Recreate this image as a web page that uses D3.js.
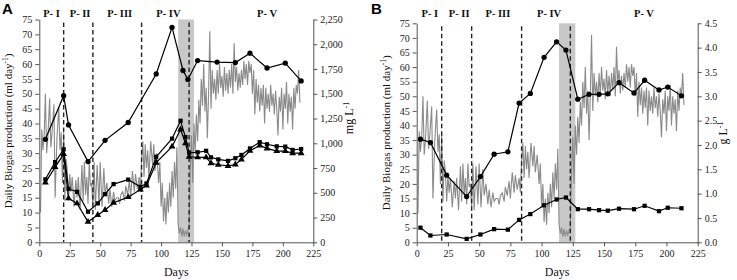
<!DOCTYPE html>
<html><head><meta charset="utf-8">
<script src="https://cdn.jsdelivr.net/npm/d3@7/dist/d3.min.js"></script>
<style>
body{margin:0;background:#fff;}
svg{display:block;}
.tick text{font-family:"Liberation Serif","Times New Roman",serif;font-size:10px;fill:#222;}
.tick line{stroke:#555;}
.domain{stroke:#555;}
</style></head>
<body><svg id="c" width="737" height="280"></svg>
<script>
// ---------- DATA ----------
const dayTicks = [0,25,50,75,100,125,150,175,200,225];
const leftTicks = [0,5,10,15,20,25,30,35,40,45,50,55,60,65,70,75];
const rightTicksA = [0,250,500,750,1000,1250,1500,1750,2000,2250];
const rightTicksB = [0,0.5,1,1.5,2,2.5,3,3.5,4,4.5];
const phaseLabels = ["P- I","P- II","P- III","P- IV","P- V"];
const phaseCentersA = [10,33.5,66,106,187];
const phaseCentersB = [10.5,34,65,106,182];
const phaseBounds = [20,44,84,123];
const shadeBand = [114,127];

// daily biogas production (ml/day), shared by both panels
const biogasDays = [1,2,3,4,5,6,7,8.5,9.5,10.5,12,13,14.5,16,17,18,19,20,21,22,
 23,24,25,26,27,28.5,30,31,32,33.5,35,36,37,38,39,40,41,42,43,44,
 45,46,47.5,49,50,51.5,53,54,55.5,57,58,59.5,61,62,63.5,65,66,67,68.5,70,71,72.5,74,75,76.5,78,79,80.5,82,83,
 84,85,86,87,88,89,90,91.5,93,94,95,96.5,98,99,100,101,102,103,104,105,106,107,108,109,110,111,112,113,114,115,116,117,118,119,120,121,122,
 123,124,125,126,127,128,129,130,131,132,133,134,135,136,137,138,139,140,141,142,143,144,145,146,147,148,149,150,
 151,152,153,154,155,156,157,158,159,160,161,162,163,164,165,166,167,168,169,170,171,172,173,174,175,176,177,178,179,180,
 181,182,183,184,185,186,187,188,189,190,191,192,193,194,195,196,197,198,199,200,201,202,203,204,205,206,207,208,209,210,211,212,213,214];
const biogasValues = [10,38,31,36,50,30,35,48.5,32,37,46.5,15,35,45.5,31,37,20,37,14,28,
 24,14,23,17,22,12,21,15,22,11,26,14,27,16,22,13,27,19,20,12,
 27,11,26,13,27,12,25,16,20,13,18,12,17,14,15,15,13,16,17,14,19,16,21,15,24,17,23,18,22,17,
 28,34,22,33,25,31,22,34,26,33,24,30,20,27,12,20,7,15,6,17,10,20,12,24,15,27,18,32,6,3,5,2,4.5,2,4,2.5,4,
 5,25,36,20,40,30,43,34,48,40,55,46,60,44,52,35,50,71,45,58,50,55,48,58,50,60,52,56,
 49,59,51,57,50,58,52,60,50,67,54,59,51,57,52,58,53,61,55,60,53,61,57,60,50,58,43,55,47,53,
 44,52,46,53,40,52,45,50,44,53,46,50,43,51,45,36,49,44,52,38,50,45,54,40,50,44,49,38,52,45,53,50,58,47];

// Panel A concentrations (mg/L)
const aCircleDays = [5,20,24,40,54,73,96,109,118,122,130,146,161,173,187,202,215];
const aCircleValues = [1040,1480,1185,815,1030,1210,1700,2170,1735,1645,1835,1820,1815,1910,1760,1810,1630];
const aMarkDays = [5,13,20,24,31,40,48,54,61,73,83,88,96,109,116,120,123,130,137,141,147,155,161,166,173,181,187,195,202,208,215];
const aSquareValues = [636,810,939,540,510,309,393,486,588,633,561,594,864,1047,1227,1062,906,909,924,858,837,822,849,882,948,1011,990,969,966,933,942];
const aTriangleValues = [603,759,891,444,393,207,276,327,399,456,534,573,804,966,1140,999,864,858,858,798,783,771,786,837,924,978,948,921,921,900,900];

// Panel B concentrations (g/L)
const bDays = [3,11,24,40,51,62,73,82,91,102,112,119.5,129,138,146,153,162,174,182.5,194,201,212];
const bCircleValues = [2.12,2.05,1.38,0.94,1.35,1.81,1.86,2.86,3.06,3.80,4.12,3.95,2.94,3.04,3.04,3.05,3.28,3.07,3.33,3.13,3.19,3.01];
const bSquareValues = [0.30,0.14,0.16,0.07,0.16,0.27,0.26,0.46,0.58,0.76,0.88,0.92,0.68,0.68,0.66,0.65,0.69,0.68,0.75,0.64,0.71,0.70];

// ---------- DRAW ----------
const svg = d3.select("#c");
const serif = '"Liberation Serif","Times New Roman",serif';

function drawPanel(p) {
  const g = svg.append("g");
  const x = d3.scaleLinear().domain([0,225]).range([p.x0,p.x1]);
  const y = d3.scaleLinear().domain([0,75]).range([p.yb,p.yt]);
  const yr = d3.scaleLinear().domain([0,p.rMax]).range([p.yb,p.yt]);

  // shaded band
  g.append("rect").attr("x",x(shadeBand[0])).attr("y",p.yt)
    .attr("width",x(shadeBand[1])-x(shadeBand[0])).attr("height",p.yb-p.yt)
    .attr("fill","#c8c8c8");

  // biogas grey line
  const pts = biogasDays.map((d,i)=>[d,biogasValues[i]]);
  g.append("path").datum(pts)
    .attr("d",d3.line().x(d=>x(d[0])).y(d=>y(d[1])))
    .attr("fill","none").attr("stroke","#8a8a8a").attr("stroke-width",1.1);

  // phase boundaries
  g.selectAll(".pb").data(phaseBounds).join("line")
    .attr("x1",d=>x(d)).attr("x2",d=>x(d)).attr("y1",p.yt+3).attr("y2",p.yb)
    .attr("stroke","#222").attr("stroke-width",1.4).attr("stroke-dasharray","4.5,3");

  // phase labels
  g.selectAll(".pl").data(phaseLabels).join("text")
    .attr("x",(d,i)=>x(p.phaseCenters[i])).attr("y",p.labelY)
    .attr("text-anchor","middle").attr("font-family",serif)
    .attr("font-weight","bold").attr("font-size","10.5px").attr("fill","#111").text(d=>d);

  // series
  p.series.forEach(s=>{
    const data = s.days.map((d,i)=>[d,s.values[i]]);
    g.append("path").datum(data)
      .attr("d",d3.line().x(d=>x(d[0])).y(d=>yr(d[1])))
      .attr("fill","none").attr("stroke","#000").attr("stroke-width",1.2);
    g.selectAll(null).data(data).join("path")
      .attr("transform",d=>`translate(${x(d[0])},${yr(d[1])})`)
      .attr("d",d3.symbol().type(s.symbol).size(s.size))
      .attr("fill","#000");
  });

  // axes
  g.append("g").attr("transform",`translate(0,${p.yb})`)
    .call(d3.axisBottom(x).tickValues(dayTicks).tickSize(4).tickPadding(4).tickSizeOuter(0));
  g.append("g").attr("transform",`translate(${p.x0},0)`)
    .call(d3.axisLeft(y).tickValues(leftTicks).tickSize(4).tickPadding(3).tickSizeOuter(0));
  g.append("g").attr("transform",`translate(${p.x1},0)`)
    .call(d3.axisRight(yr).tickValues(p.rTicks).tickFormat(p.rFormat).tickSize(4).tickPadding(3).tickSizeOuter(0));

  // titles
  const lt = g.append("text").attr("transform",`translate(${p.x0-27},${(p.yt+p.yb)/2}) rotate(-90)`)
    .attr("text-anchor","middle").attr("font-family",serif).attr("font-size","11px").attr("fill","#111");
  lt.append("tspan").text("Daily Biogas production (ml day");
  lt.append("tspan").attr("font-size","7.5px").attr("dy","-4").text("-1");
  lt.append("tspan").attr("dy","4").text(")");

  const rt = g.append("text").attr("transform",`translate(${p.x1+p.rTitleDx},${p.rTitleY}) rotate(-90)`)
    .attr("text-anchor","middle").attr("font-family",serif).attr("font-size","12px").attr("fill","#111");
  rt.append("tspan").text(p.rUnit);
  rt.append("tspan").attr("font-size","8px").attr("dy","-4").text("-1");

  g.append("text").attr("x",(p.x0+p.x1)/2).attr("y",276).attr("text-anchor","middle")
    .attr("font-family",serif).attr("font-size","12px").attr("fill","#111").text("Days");

  g.append("text").attr("x",p.letterX).attr("y",14).attr("font-family","Arial, 'Liberation Sans', sans-serif")
    .attr("font-weight","bold").attr("font-size","15px").attr("fill","#000").text(p.letter);
}

drawPanel({
  letter:"A", letterX:2,
  x0:39.3, x1:313.3, yt:19.5, yb:242.3,
  rMax:2250, rTicks:rightTicksA, rFormat:d3.format(","),
  rUnit:"mg L", rTitleDx:40, rTitleY:118,
  phaseCenters:phaseCentersA, labelY:17,
  series:[
    {days:aCircleDays, values:aCircleValues, symbol:d3.symbolCircle, size:22},
    {days:aMarkDays, values:aSquareValues, symbol:d3.symbolSquare, size:18},
    {days:aMarkDays, values:aTriangleValues, symbol:d3.symbolTriangle, size:20}
  ]
});
drawPanel({
  letter:"B", letterX:371,
  x0:416.7, x1:697.7, yt:23.3, yb:242.3,
  rMax:4.5, rTicks:rightTicksB, rFormat:d3.format(".1f"),
  rUnit:"g L", rTitleDx:29.5, rTitleY:133,
  phaseCenters:phaseCentersB, labelY:17,
  series:[
    {days:bDays, values:bCircleValues, symbol:d3.symbolCircle, size:22},
    {days:bDays, values:bSquareValues, symbol:d3.symbolSquare, size:18}
  ]
});
</script></body></html>
